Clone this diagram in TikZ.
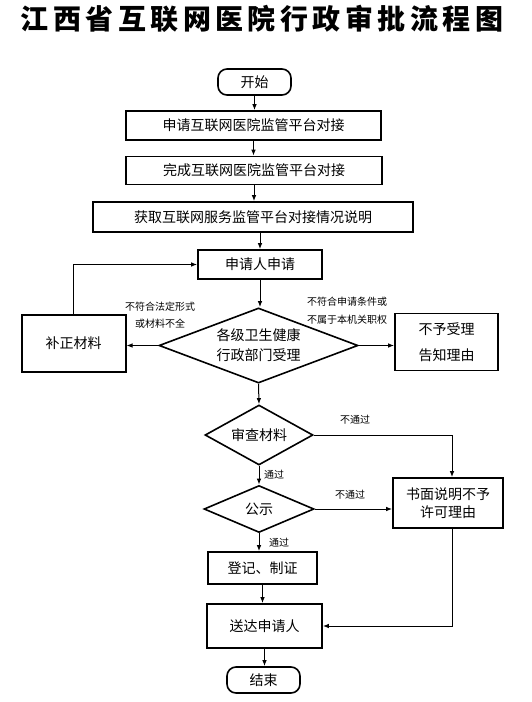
\documentclass[tikz,border=0pt]{standalone}
\usepackage{fontspec}
\usepackage{tikz}
\usetikzlibrary{shapes.geometric,arrows.meta}
\setmainfont{Noto Sans CJK SC}
\newfontfamily\titlefont[LetterSpace=16]{Noto Sans CJK SC}

\tikzset{
	box/.style={draw=black, line width=1.6pt, inner sep=0pt, align=center, font=\fontsize{14}{20}\selectfont},
	term/.style={box, rounded corners=9pt, minimum width=73pt, minimum height=26pt},
	decision/.style={box, shape=diamond, aspect=2},
	arr/.style={-{Latex[length=6pt,width=4.5pt]}, line width=1pt},
	lbl/.style={inner sep=0pt, align=center, font=\fontsize{10}{17}\selectfont}
}

\begin{document}
\begin{tikzpicture}[x=1pt,y=-1pt]
	\useasboundingbox (0,0) rectangle (532,702);

	\node[font=\titlefont\bfseries\fontsize{28}{28}\selectfont] (title) at (262,18.5) {江西省互联网医院行政审批流程图};

	\node[term] (start) at (254.5,82)     {开始};
	\node[box,minimum width=255pt,minimum height=29pt] (dock) at (253.5,125.5)     {申请互联网医院监管平台对接};
	\node[box,minimum width=256pt,minimum height=28pt] (done) at (254,170.5)     {完成互联网医院监管平台对接};
	\node[box,minimum width=320pt,minimum height=30pt] (note) at (253,217)     {获取互联网服务监管平台对接情况说明};
	\node[box,minimum width=124pt,minimum height=29pt] (apply) at (260,264.5)     {申请人申请};
	\node[decision,minimum width=199pt,minimum height=63pt] (accept) at (258.5,345.5)     {各级卫生健康\\行政部门受理};
	\node[box,minimum width=104pt,minimum height=57pt] (amend) at (73.7,343.5)     {补正材料};
	\node[box,minimum width=103pt,minimum height=57pt,font=\fontsize{14}{26.5}\selectfont] (reject) at (446.5,342)     {不予受理\\告知理由};
	\node[decision,minimum width=108pt,minimum height=60pt] (review) at (259,435)     {审查材料};
	\node[decision,minimum width=110pt,minimum height=47pt] (publish) at (259,509)     {公示};
	\node[box,minimum width=110pt,minimum height=50pt,font=\fontsize{14}{18}\selectfont] (refuse) at (448,503)     {书面说明不予\\许可理由};
	\node[box,minimum width=109pt,minimum height=32pt] (issue) at (262.5,568)     {登记、制证};
	\node[box,minimum width=115pt,minimum height=44pt] (deliver) at (264.5,626)     {送达申请人};
	\node[term] (end) at (263.5,680)     {结束};

	\node[lbl] (formbad) at (160,315)     {不符合法定形式\\或材料不全};
	\node[lbl,font=\fontsize{10}{18}\selectfont] (outscope) at (347,311)     {不符合申请条件或\\不属于本机关职权};
	\node[lbl] (failA) at (355,420)     {不通过};
	\node[lbl] (passA) at (274,475)     {通过};
	\node[lbl] (failB) at (350,495)     {不通过};
	\node[lbl] (passB) at (279,543)     {通过};

	\path[arr] (start.south) edge (start.south |- dock.north);
	\path[arr] (dock.south) edge (dock.south |- done.north);
	\path[arr] (done.south) edge (done.south |- note.north);
	\path[arr] (apply.north |- note.south) edge (apply.north);
	\path[arr] (apply.south) edge (apply.south |- accept.north);
	\path[arr] (accept.west) edge (accept.west -| amend.east);
	\path[arr] (accept.east) edge (accept.east -| reject.west);
	\draw[arr] (amend.north) |- (apply.west);
	\path[arr] (accept.south) edge (review.north);
	\draw[arr] (review.east) -| ([xshift=4pt]refuse.north);
	\path[arr] (review.south) edge (publish.north);
	\path[arr] (publish.east) edge (publish.east -| refuse.west);
	\path[arr] (publish.south) edge (publish.south |- issue.north);
	\path[arr] (issue.south) edge (issue.south |- deliver.north);
	\draw[arr] ([xshift=4pt]refuse.south) |- (deliver.east);
	\path[arr] (deliver.south) edge (deliver.south |- end.north);
\end{tikzpicture}
\end{document}
